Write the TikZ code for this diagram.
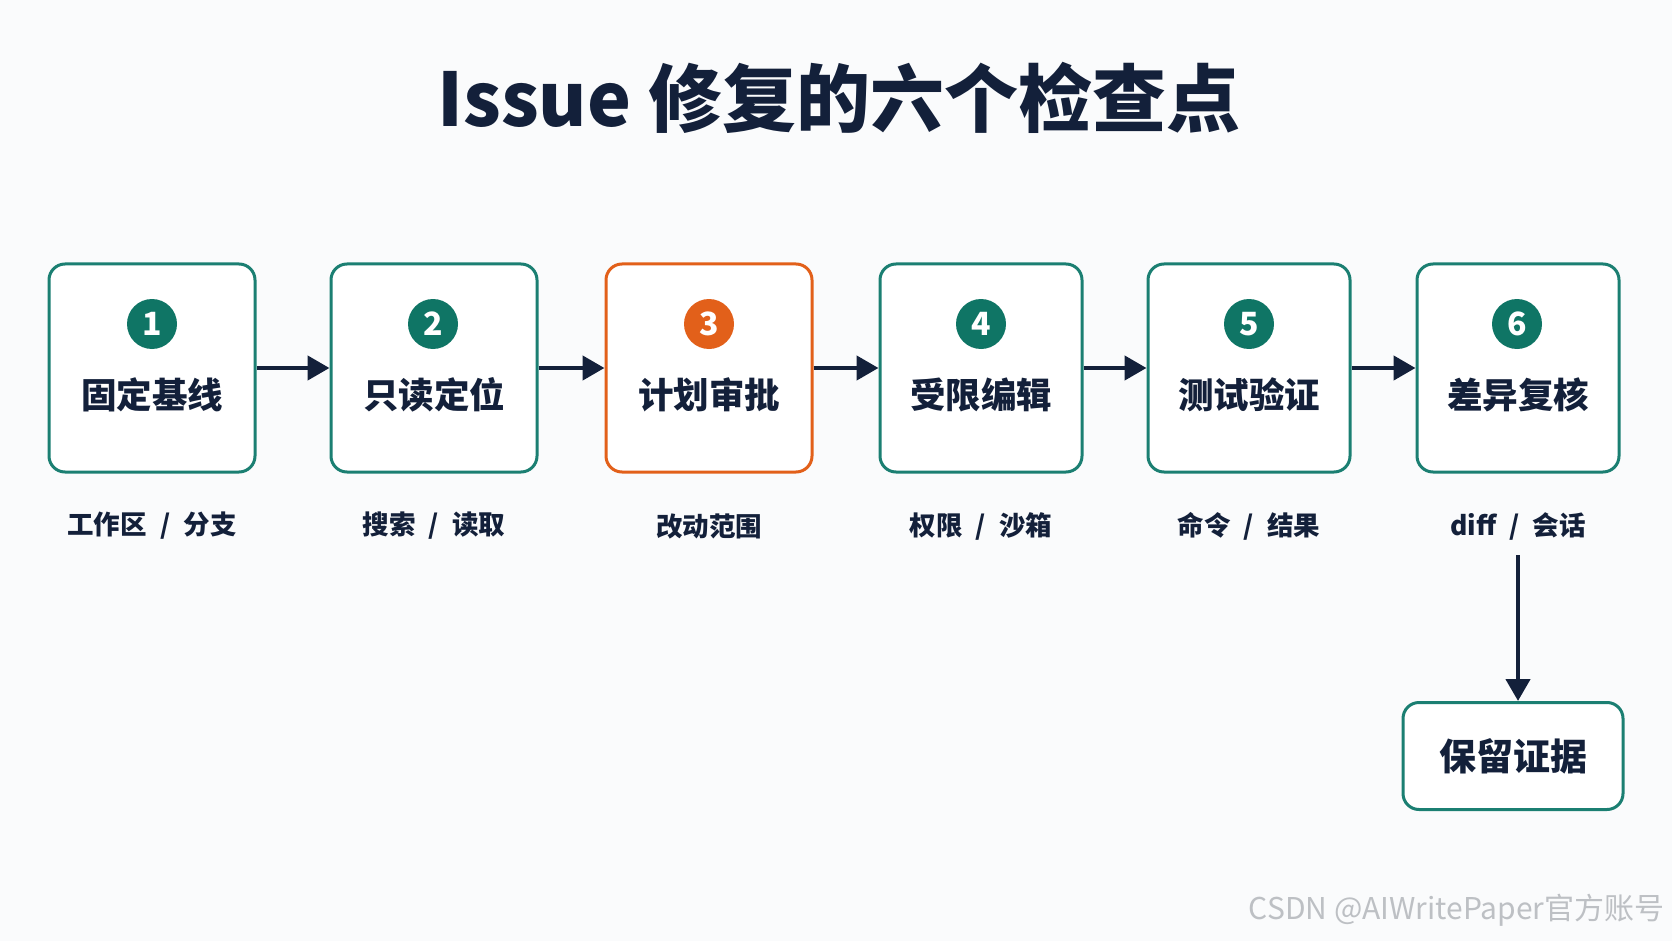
\documentclass[tikz,border=0pt]{standalone}
\usepackage{fontspec}
\setmainfont{Noto Sans CJK SC}
\usetikzlibrary{arrows.meta}
\definecolor{teal1}{HTML}{1B7F72}
\definecolor{tealfill}{HTML}{0F7565}
\definecolor{orng}{HTML}{E2601A}
\definecolor{navy}{HTML}{13203A}
\definecolor{bg}{HTML}{FAFBFC}
\definecolor{wm}{HTML}{BDC0C4}
\newcommand{\mysep}{\hspace{0.5em}/\hspace{0.5em}}
\tikzset{
  stepbox/.style={draw=teal1, line width=3pt, rounded corners=16pt, fill=white, minimum width=206pt, minimum height=208pt},
  hotbox/.style={stepbox, draw=orng},
  num/.style={circle, fill=tealfill, text=white, minimum size=50pt, inner sep=0pt, font=\fontsize{32}{32}\selectfont\bfseries},
  hotnum/.style={num, fill=orng},
  lbl/.style={text=navy, font=\fontsize{35.5}{40}\selectfont\bfseries},
  sub/.style={text=navy, font=\fontsize{26.5}{30}\selectfont\bfseries},
  conn/.style={draw=navy, line width=4.5pt, -{Triangle[length=22pt,width=24pt]}},
}
\begin{document}
\begin{tikzpicture}[x=1pt,y=-1pt]
\useasboundingbox[fill=bg] (0,0) rectangle (1672,941);
\node[text=navy, font=\fontsize{74}{80}\selectfont\bfseries] (title) at (839,98) {Issue 修复的六个检查点};
% boxes
\node[stepbox] (b1) at (152,368) {};
\node[stepbox] (b2) at (434,368) {};
\node[hotbox]  (b3) at (709,368) {};
\node[stepbox, minimum width=202pt] (b4) at (981,368) {};
\node[stepbox, minimum width=202pt] (b5) at (1249,368) {};
\node[stepbox, minimum width=202pt] (b6) at (1518,368) {};
% numbers
\node[num] (n1) at (152,324) {1};
\node[num] (n2) at (433,324) {2};
\node[hotnum] (n3) at (709,324) {3};
\node[num] (n4) at (981,324) {4};
\node[num] (n5) at (1249,324) {5};
\node[num] (n6) at (1517,324) {6};
% labels
\node[lbl] (l1) at (152,395) {固定基线};
\node[lbl] (l2) at (434,395) {只读定位};
\node[lbl] (l3) at (709,395) {计划审批};
\node[lbl] (l4) at (981,395) {受限编辑};
\node[lbl] (l5) at (1249,395) {测试验证};
\node[lbl] (l6) at (1518,395) {差异复核};
% sub labels
\node[sub] (s1) at (152,526) {工作区\mysep 分支};
\node[sub] (s2) at (434,526) {搜索\mysep 读取};
\node[sub] (s3) at (709,526) {改动范围};
\node[sub] (s4) at (981,526) {权限\mysep 沙箱};
\node[sub] (s5) at (1249,526) {命令\mysep 结果};
\node[sub] (s6) at (1518,526) {diff\mysep 会话};
% final box
\node[stepbox, minimum width=220pt, minimum height=107pt] (ev) at (1513,756) {};
\node[lbl, font=\fontsize{37}{40}\selectfont\bfseries] (evl) at (1513,756) {保留证据};
% connectors
\draw[conn] (b1.east) -- (b2.west);
\draw[conn] (b2.east) -- (b3.west);
\draw[conn] (b3.east) -- (b4.west);
\draw[conn] (b4.east) -- (b5.west);
\draw[conn] (b5.east) -- (b6.west);
\coordinate (dtop) at (1518,555);
\draw[conn] (dtop) -- (dtop |- ev.north);
% watermark
\node[text=wm, anchor=east, font=\fontsize{30}{32}\selectfont] (wmk) at (1668,910) {CSDN @AIWritePaper官方账号};
\end{tikzpicture}
\end{document}
